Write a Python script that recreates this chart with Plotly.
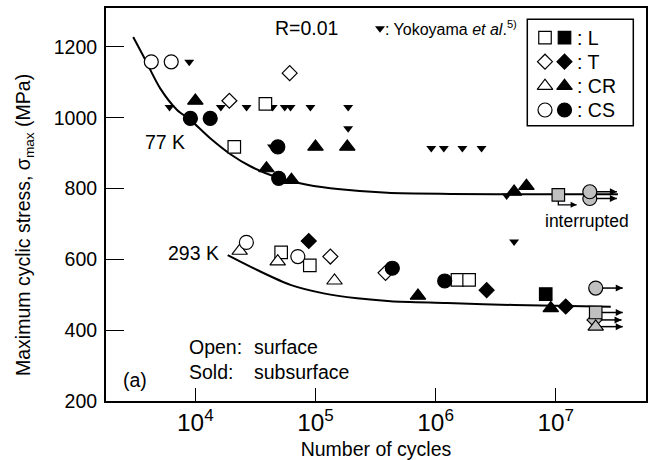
import plotly.graph_objects as go

# ---------------- data ----------------
# open symbols = surface origin, solid = subsurface origin
L_open_N = [21100, 38300, 51800, 89700, 1.52e6, 1.9e6]
L_open_S = [918, 1039, 620, 583, 542, 542]
L_solid_N = [8.25e6]
L_solid_S = [502]

T_open_N = [19200, 61000, 133000, 383000]
T_open_S = [1048, 1126, 608, 562]
T_solid_N = [87900, 2.66e6, 1.21e7]
T_solid_S = [652, 513, 467]

CR_open_N = [23400, 48500, 144000]
CR_open_S = [624, 594, 540]
CR_solid_N = [10000, 39100, 63100, 100000, 184000, 4.5e6, 5.7e6, 713000, 9.09e6]
CR_solid_S = [1048, 857, 824, 918, 918, 791, 807, 497, 462]

CS_open_N = [4300, 6300, 26600, 71300]
CS_open_S = [1158, 1158, 648, 608]
CS_solid_N = [9100, 13300, 48600, 49400, 436000, 1.19e6]
CS_solid_S = [998, 998, 918, 829, 575, 539]

# run-outs (grey)
runout_CS_N = [1.92e7, 1.92e7, 2.15e7]
runout_CS_S = [772, 791, 519]
runout_T_N = [2.1e7]
runout_T_S = [429]
runout_CR_N = [2.15e7]
runout_CR_S = [410]
runout_L_N = [2.15e7]
runout_L_S = [450]
interrupted_L_N = [1.05e7]
interrupted_L_S = [782]

# Yokoyama et al.
yoko_N = [8900, 6100, 16300, 26700, 44000, 55500, 62000, 90800, 187000, 187000,
          43500, 920000, 1.17e6, 1.67e6, 2.41e6, 3.9e6, 4.5e6]
yoko_S = [1158, 1030, 1030, 1030, 1030, 1030, 1030, 1030, 1030, 970,
          918, 914, 914, 914, 914, 780, 650]

# S-N curves
curve77_N = [3040, 3710, 5100, 7050, 9080, 13300, 19600, 28700, 45000, 85300,
             161000, 396000, 1.33e6, 7.5e6, 3.29e7]
curve77_S = [1228, 1173, 1083, 1022, 994, 942, 897, 863, 835, 811,
             798, 788, 785, 784, 784]
curve293_N = [18600, 32700, 61900, 117000, 222000, 422000, 1.25e6, 4.5e6, 2.87e7]
curve293_S = [612, 570, 528, 504, 490, 482, 477, 471, 466]

# ---------------- styles ----------------
FONT = "Liberation Sans, Arial, sans-serif"
GREY = "#c0c0c0"
SZ = {"square": 12.5, "diamond": 11.5, "triangle-up": 13.5, "circle": 14}
ARROW_FACTOR = 1.68

# plot area in pixels (for placing decorations)
PL, PR, PT, PB = 106, 646, 8, 401


def px(x):
    return (x - PL) / (PR - PL)


def py(y):
    return (PB - y) / (PB - PT)


fig = go.Figure()

for N, S in [(curve77_N, curve77_S), (curve293_N, curve293_S)]:
    fig.add_trace(go.Scatter(x=N, y=S, mode="lines",
                             line=dict(color="black", width=2, shape="spline", smoothing=0.8),
                             hoverinfo="skip"))

fig.add_trace(go.Scatter(x=yoko_N, y=yoko_S, mode="markers",
                         marker=dict(symbol="triangle-down", size=8.7, color="black",
                                     line=dict(width=0)), hoverinfo="skip"))

# run-out arrows
for Ns, Ss in [(runout_CS_N, runout_CS_S), (runout_T_N, runout_T_S),
               (runout_CR_N, runout_CR_S), (runout_L_N, runout_L_S)]:
    for n, s in zip(Ns, Ss):
        fig.add_trace(go.Scatter(x=[n, n * ARROW_FACTOR], y=[s, s], mode="lines",
                                 line=dict(color="black", width=1.5), hoverinfo="skip"))
        fig.add_trace(go.Scatter(x=[n * ARROW_FACTOR], y=[s], mode="markers",
                                 marker=dict(symbol="arrow-right", size=7, color="black",
                                             line=dict(width=0)), hoverinfo="skip"))
for n, s in zip(interrupted_L_N, interrupted_L_S):
    fig.add_trace(go.Scatter(x=[n, n, n * 1.42], y=[s, s - 28, s - 28], mode="lines",
                             line=dict(color="black", width=1.3), hoverinfo="skip"))
    fig.add_trace(go.Scatter(x=[n * 1.42], y=[s - 28], mode="markers",
                             marker=dict(symbol="arrow-right", size=6, color="black",
                                         line=dict(width=0)), hoverinfo="skip"))


def pts(N, S, sym, fill):
    fig.add_trace(go.Scatter(x=N, y=S, mode="markers", hoverinfo="skip",
                             marker=dict(symbol=sym, size=SZ[sym], color=fill,
                                         line=dict(color="black", width=1.2))))


pts(L_open_N, L_open_S, "square", "white")
pts(T_open_N, T_open_S, "diamond", "white")
pts(CR_open_N, CR_open_S, "triangle-up", "white")
pts(CS_open_N, CS_open_S, "circle", "white")
pts(L_solid_N, L_solid_S, "square", "black")
pts(T_solid_N, T_solid_S, "diamond", "black")
pts(CR_solid_N, CR_solid_S, "triangle-up", "black")
pts(CS_solid_N, CS_solid_S, "circle", "black")
pts(runout_T_N, runout_T_S, "diamond", GREY)
pts(runout_CR_N, runout_CR_S, "triangle-up", GREY)
pts(runout_L_N, runout_L_S, "square", GREY)
pts(interrupted_L_N, interrupted_L_S, "square", GREY)
pts(runout_CS_N, runout_CS_S, "circle", GREY)

# ---------------- legend key (pixel-space overlay) ----------------
legend_rows = [("square", ": L", 37.7), ("diamond", ": T", 61.7),
               ("triangle-up", ": CR", 86), ("circle", ": CS", 110)]
for sym, lab, yy in legend_rows:
    fig.add_trace(go.Scatter(x=[545, 564.5], y=[yy, yy], mode="markers", xaxis="x2", yaxis="y2",
                             hoverinfo="skip",
                             marker=dict(symbol=sym, size=SZ[sym], color=["white", "black"],
                                         line=dict(color="black", width=1.2))))
fig.add_trace(go.Scatter(x=[380], y=[28.5], mode="markers", xaxis="x2", yaxis="y2", hoverinfo="skip",
                         marker=dict(symbol="triangle-down", size=8.7, color="black", line=dict(width=0))))

ann = []


def txt(t, x, y, anchor="left", size=19.5, angle=0):
    ann.append(dict(text=t, x=px(x), y=py(y), xref="paper", yref="paper", showarrow=False,
                    xanchor=anchor, yanchor="middle", textangle=angle,
                    font=dict(family=FONT, size=size, color="black")))


for sym, lab, yy in legend_rows:
    txt(lab, 575, yy)
txt("R=0.01", 306.5, 28.3, "center")
txt(": Yokoyama <i>et al</i>.<sup>5)</sup>", 383, 28.3, "left", 16)
txt("77 K", 164.7, 141.7, "center")
txt("293 K", 221, 253.3, "right")
txt("interrupted", 543, 221, "left", 17.5)
txt("(a)", 121, 380)
txt("Open:", 187, 346.7)
txt("surface", 251.5, 346.7)
txt("Sold:", 187, 371.7)
txt("subsurface", 251.5, 371.7)
txt("Maximum cyclic stress, σ<sub>max</sub> (MPa)", 24, 225, "center", 19.5, -90)

shapes = [dict(type="rect", xref="paper", yref="paper", x0=px(527.3), x1=px(633.3),
               y0=py(19.3), y1=py(125.7),
               line=dict(color="black", width=1.5), fillcolor="rgba(0,0,0,0)")]

axis_common = dict(showline=True, linewidth=2, linecolor="black", mirror=True,
                   ticks="inside", tickcolor="black", tickwidth=1.3,
                   showgrid=False, zeroline=False, automargin=False,
                   tickfont=dict(family=FONT, size=19.5, color="black"))

fig.update_layout(
    width=653, height=460,
    margin=dict(l=PL, r=653 - PR, t=PT, b=460 - PB),
    paper_bgcolor="white", plot_bgcolor="white",
    font=dict(family=FONT, size=19.5, color="black"),
    showlegend=False,
    xaxis=dict(type="log", range=[3.2565, 7.751], dtick=1, exponentformat="power",
               ticklen=13, title=dict(text="Number of cycles", standoff=13,
                                      font=dict(family=FONT, size=19.5)),
               **axis_common),
    yaxis=dict(range=[200, 1310], tick0=200, dtick=200, ticklen=18,
               ticklabelstandoff=3, **axis_common),
    xaxis2=dict(overlaying="x", range=[PL, PR], visible=False, anchor="y2"),
    yaxis2=dict(overlaying="y", range=[PB, PT], visible=False, anchor="x2"),
    annotations=ann,
    shapes=shapes,
)

fig.write_html("out.html")
